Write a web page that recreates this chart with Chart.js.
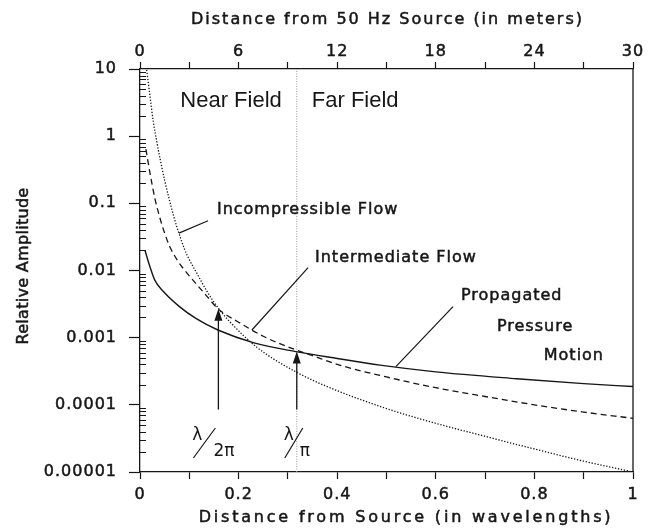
<!DOCTYPE html>
<html lang="en">
<head>
<meta charset="UTF-8">
<title>Near Field and Far Field Amplitude</title>
<script src="https://cdn.jsdelivr.net/npm/chart.js"></script>
<style>
  body { margin: 0; background: #fff; }
  #fieldChart { display: block; }
</style>
</head>
<body>
<canvas id="fieldChart" width="649" height="529"></canvas>
<script>
// values: x = distance from source (wavelengths), y = relative amplitude
const incompressibleX = [0.0135, 0.02, 0.027, 0.034, 0.041, 0.05, 0.06, 0.07, 0.08, 0.09, 0.1, 0.115, 0.135, 0.158, 0.183, 0.237, 0.316, 0.385, 0.5, 0.6, 0.7, 0.8, 0.9, 1.0];
const incompressibleY = [9.7, 4.1, 1.64, 0.83, 0.45, 0.22, 0.11, 0.058, 0.034, 0.021, 0.0145, 0.0092, 0.005, 0.0028, 0.0017, 0.00072, 0.00031, 0.00018, 0.000088, 0.000053, 0.000034, 0.000022, 0.0000145, 0.00001];

const intermediateX = [0.012, 0.02, 0.03, 0.04, 0.05, 0.06, 0.075, 0.09, 0.115, 0.135, 0.158, 0.2, 0.25, 0.3, 0.35, 0.4, 0.5, 0.6, 0.7, 0.8, 0.9, 1.0];
const intermediateY = [0.64, 0.29, 0.12, 0.062, 0.036, 0.023, 0.0145, 0.0102, 0.0062, 0.0042, 0.0027, 0.0017, 0.00105, 0.00073, 0.00054, 0.0004, 0.00026, 0.00018, 0.000133, 0.0001, 0.000078, 0.000063];

const propagatedX = [0.01, 0.02, 0.03, 0.047, 0.08, 0.115, 0.158, 0.233, 0.316, 0.4, 0.487, 0.6, 0.764, 0.9, 1.0];
const propagatedY = [0.02, 0.0115, 0.0072, 0.0049, 0.0029, 0.0019, 0.0013, 0.00083, 0.00062, 0.00049, 0.00039, 0.00031, 0.000245, 0.000207, 0.000187];

// near / far field boundary at lambda / pi
const boundaryX = [0.318, 0.318];
const boundaryY = [0.00001, 10];

// arrows marking lambda/2pi and lambda/pi
const arrowX = [0.159, 0.318];
const arrowTipY = [0.0027, 0.00062];
const arrowBaseY = [0.000085, 0.000085];

// axis ticks
const xTickLabels = ['0', '0.2', '0.4', '0.6', '0.8', '1'];
const meterTickLabels = ['0', '6', '12', '18', '24', '30'];
const yDecades = [10, 1, 0.1, 0.01, 0.001, 0.0001, 0.00001];
const yDecadeLabels = ['10', '1', '0.1', '0.01', '0.001', '0.0001', '0.00001'];

// annotation placement (data coordinates)
const curveNotes = [
    { text: 'Incompressible Flow', x: 0.156, y: 0.08 },
    { text: 'Intermediate Flow', x: 0.355, y: 0.0155 },
    { text: 'Propagated', x: 0.651, y: 0.0042 },
    { text: 'Pressure', x: 0.724, y: 0.00145 },
    { text: 'Motion', x: 0.819, y: 0.00054 }
];
const leaderLines = [
    { from: [0.138, 0.055], to: [0.079, 0.036] },
    { from: [0.341, 0.011], to: [0.227, 0.0013] },
    { from: [0.635, 0.0029], to: [0.519, 0.00037] }
];

const ink = '#161616';
const labelFont = '16px "DejaVu Sans"';
const tickFont = { family: 'DejaVu Sans', size: 16 };

function pts(xs, ys) {
    return xs.map((x, i) => ({ x: x, y: ys[i] }));
}

function decadeIndex(v) {
    return yDecades.findIndex(d => Math.abs(d - v) / d < 1e-6);
}

// y ticks: decades plus 2..9 minors
const yTickValues = [];
yDecades.forEach(d => {
    yTickValues.push(d);
    if (d < 10) {
        for (let m = 2; m <= 9; m++) yTickValues.push(d * m);
    }
});

function line(ctx, x1, y1, x2, y2) {
    ctx.beginPath();
    ctx.moveTo(x1, y1);
    ctx.lineTo(x2, y2);
    ctx.stroke();
}

// filled text with a thin outline so it reads as heavy as the scan
function heavyText(ctx, text, x, y) {
    ctx.save();
    ctx.lineWidth = 0.5;
    ctx.strokeText(text, x, y);
    ctx.restore();
    ctx.fillText(text, x, y);
}

const decorations = {
    id: 'decorations',
    beforeDraw(chart) {
        chart.ctx.letterSpacing = '1px';
    },
    afterDraw(chart) {
        const { ctx, chartArea: a } = chart;
        const x = chart.scales.x;
        const y = chart.scales.y;
        ctx.save();
        ctx.strokeStyle = ink;
        ctx.fillStyle = ink;
        ctx.lineWidth = 1.3;

        // right frame edge
        line(ctx, a.right, a.top, a.right, a.bottom);

        // minor log ticks point inward
        ctx.lineWidth = 1;
        y.ticks.forEach(t => {
            if (decadeIndex(t.value) < 0) {
                const py = Math.round(y.getPixelForValue(t.value)) + 0.5;
                line(ctx, a.left, py, a.left + 6, py);
            }
        });

        // arrows
        ctx.lineWidth = 1.3;
        arrowX.forEach((ax, i) => {
            const px = x.getPixelForValue(ax);
            const tip = y.getPixelForValue(arrowTipY[i]);
            const base = y.getPixelForValue(arrowBaseY[i]);
            line(ctx, px, base, px, tip + 8);
            ctx.beginPath();
            ctx.moveTo(px, tip);
            ctx.lineTo(px - 4, tip + 12);
            ctx.lineTo(px + 4, tip + 12);
            ctx.closePath();
            ctx.fill();
        });

        // leader lines
        ctx.lineWidth = 1.2;
        leaderLines.forEach(l => {
            line(ctx, x.getPixelForValue(l.from[0]), y.getPixelForValue(l.from[1]),
                x.getPixelForValue(l.to[0]), y.getPixelForValue(l.to[1]));
        });

        // curve names
        ctx.font = labelFont;
        ctx.textBaseline = 'middle';
        ctx.textAlign = 'left';
        ctx.letterSpacing = '1px';
        curveNotes.forEach(n => {
            heavyText(ctx, n.text, x.getPixelForValue(n.x), y.getPixelForValue(n.y));
        });

        // near / far field headings either side of the boundary
        const bx = x.getPixelForValue(boundaryX[0]);
        const hy = y.getPixelForValue(3.3);
        ctx.font = '22px "Liberation Sans", Arial, sans-serif';
        ctx.letterSpacing = '0px';
        ctx.textAlign = 'right';
        ctx.fillText('Near Field', bx - 15, hy);
        ctx.textAlign = 'left';
        ctx.fillText('Far Field', bx + 15, hy);

        // lambda/2pi and lambda/pi marks
        ctx.font = '17px "DejaVu Sans"';
        ctx.lineWidth = 1.2;
        const p1 = x.getPixelForValue(arrowX[0]);
        ctx.textAlign = 'center';
        ctx.fillText('λ', p1 - 21, 436);
        line(ctx, p1 - 25, 458, p1 - 3, 428);
        ctx.textAlign = 'left';
        ctx.fillText('2π', p1 - 5, 452);
        const p2 = x.getPixelForValue(arrowX[1]);
        ctx.textAlign = 'center';
        ctx.fillText('λ', p2 - 8, 436);
        line(ctx, p2 - 12, 458, p2 + 6, 428);
        ctx.textAlign = 'left';
        ctx.fillText('π', p2 + 3, 452);

        // axis titles
        ctx.font = labelFont;
        ctx.textAlign = 'center';
        ctx.letterSpacing = '2px';
        heavyText(ctx, 'Distance from 50 Hz Source (in meters)', (a.left + a.right) / 2 + 1, 20);
        ctx.letterSpacing = '2.8px';
        heavyText(ctx, 'Distance from Source (in wavelengths)', 406, 518);
        ctx.letterSpacing = '0.3px';
        ctx.translate(24, 266);
        ctx.rotate(-Math.PI / 2);
        heavyText(ctx, 'Relative Amplitude', 0, 0);
        ctx.restore();
    }
};

const ctx = document.getElementById('fieldChart').getContext('2d');
new Chart(ctx, {
    type: 'line',
    data: {
        datasets: [
            {
                label: 'Incompressible Flow',
                data: pts(incompressibleX, incompressibleY),
                borderColor: ink,
                borderWidth: 1.3,
                borderDash: [1.3, 1.7],
                pointRadius: 0,
                cubicInterpolationMode: 'monotone'
            },
            {
                label: 'Intermediate Flow',
                data: pts(intermediateX, intermediateY),
                borderColor: ink,
                borderWidth: 1.3,
                borderDash: [6, 4],
                pointRadius: 0,
                cubicInterpolationMode: 'monotone'
            },
            {
                label: 'Propagated Pressure Motion',
                data: pts(propagatedX, propagatedY),
                borderColor: ink,
                borderWidth: 1.4,
                pointRadius: 0,
                cubicInterpolationMode: 'monotone'
            },
            {
                label: 'Boundary',
                data: pts(boundaryX, boundaryY),
                borderColor: '#9a9a9a',
                borderWidth: 1,
                borderDash: [1, 1.5],
                pointRadius: 0
            }
        ]
    },
    options: {
        responsive: false,
        animation: false,
        devicePixelRatio: 1,
        layout: { padding: { left: 0, right: 16, top: 0, bottom: 0 } },
        plugins: {
            legend: { display: false },
            tooltip: { enabled: false }
        },
        scales: {
            x: {
                type: 'linear',
                position: 'bottom',
                min: 0,
                max: 1,
                afterFit: s => { s.height = 57; },
                border: { color: ink, width: 1.3 },
                grid: { drawOnChartArea: false, tickLength: 7, color: ink, tickWidth: 1.2 },
                ticks: {
                    stepSize: 0.1,
                    autoSkip: false,
                    maxRotation: 0,
                    padding: 6,
                    color: ink,
                    textStrokeColor: ink,
                    textStrokeWidth: 0.5,
                    font: tickFont,
                    callback: v => {
                        const k = Math.round(v * 10);
                        return k % 2 === 0 ? xTickLabels[k / 2] : '';
                    }
                }
            },
            meters: {
                type: 'linear',
                position: 'top',
                display: true,
                min: 0,
                max: 30,
                afterFit: s => { s.height = 69; },
                border: { color: ink, width: 1.3 },
                grid: { drawOnChartArea: false, tickLength: 7, color: ink, tickWidth: 1.2 },
                ticks: {
                    stepSize: 3,
                    autoSkip: false,
                    maxRotation: 0,
                    padding: 1,
                    color: ink,
                    textStrokeColor: ink,
                    textStrokeWidth: 0.5,
                    font: tickFont,
                    callback: v => (v % 6 === 0 ? meterTickLabels[v / 6] : '')
                }
            },
            y: {
                type: 'logarithmic',
                min: 0.00001,
                max: 10,
                afterFit: s => { s.width = 140; },
                afterBuildTicks: s => { s.ticks = yTickValues.map(v => ({ value: v })); },
                border: { color: ink, width: 1.3 },
                grid: {
                    drawOnChartArea: false,
                    tickLength: 11,
                    tickWidth: 1.2,
                    tickColor: c => (c.tick && decadeIndex(c.tick.value) >= 0 ? ink : 'rgba(0,0,0,0)')
                },
                ticks: {
                    autoSkip: false,
                    padding: 12,
                    color: ink,
                    textStrokeColor: ink,
                    textStrokeWidth: 0.5,
                    font: tickFont,
                    callback: v => {
                        const i = decadeIndex(v);
                        return i >= 0 ? yDecadeLabels[i] : '';
                    }
                }
            }
        }
    },
    plugins: [decorations]
});
</script>
</body>
</html>
